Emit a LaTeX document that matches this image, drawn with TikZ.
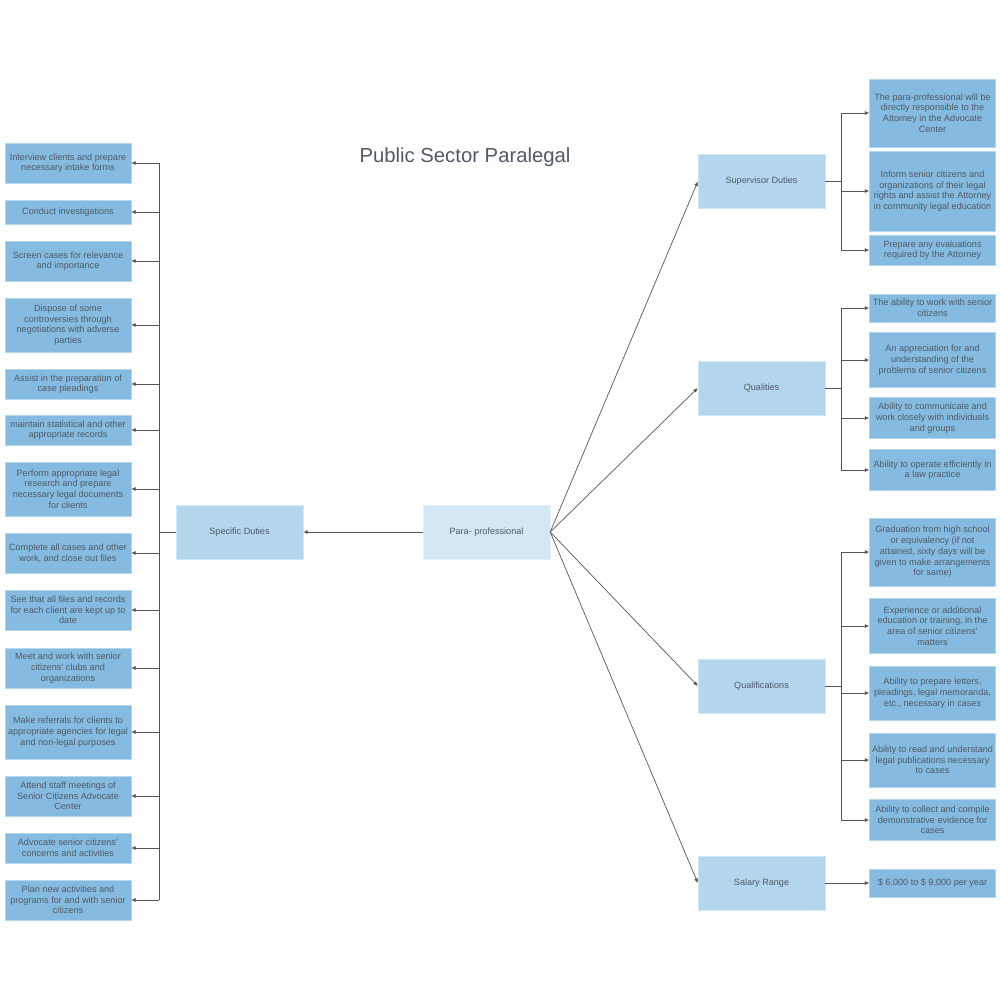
\documentclass[tikz,border=0pt]{standalone}
\usepackage{fontspec}
\setmainfont{Liberation Sans}
\usetikzlibrary{arrows.meta}
\definecolor{leafblue}{HTML}{85BBE1}
\definecolor{midblue}{HTML}{B3D6EC}
\definecolor{rootblue}{HTML}{D3E8F5}
\definecolor{txtgray}{HTML}{505A66}
\definecolor{linegray}{HTML}{555555}

\begin{document}
\begin{tikzpicture}[
    x=1pt, y=-1pt,
    every node/.style={font=\fontsize{9.1}{10.7}\selectfont, text=txtgray},
    leaf/.style={rectangle, fill=leafblue, draw=leafblue!60!white, line width=0.4pt,
        align=center, inner sep=1pt, minimum width=126pt},
    midbox/.style={rectangle, fill=midblue, draw=midblue!60!white, line width=0.4pt,
        align=center, minimum width=127pt, minimum height=54pt},
    rootbox/.style={midbox, fill=rootblue, draw=rootblue!60!white},
    link/.style={draw=linegray, line width=0.7pt},
    arrow/.style={link, -{Latex[length=4.5pt, width=4pt]}}
]
\useasboundingbox (0,0) rectangle (1000,1000);

\node[font=\fontsize{20.3}{24}\selectfont] (title) at (465,157) {Public Sector Paralegal};

\node[rootbox] (para) at (486.5,532) {Para- professional};
\node[midbox] (spec) at (239.5,532) {Specific Duties};
\node[midbox] (sup) at (761.5,181.5) {Supervisor Duties};
\node[midbox] (qual) at (761.5,388) {Qualities};
\node[midbox] (qfn) at (761.5,686) {Qualifications};
\node[midbox] (sal) at (761.5,883) {Salary Range};

\node[leaf, minimum height=40pt] (d1) at (68,163) {Interview clients and prepare\\necessary intake forms};
\node[leaf, minimum height=24pt] (d2) at (68,212) {Conduct investigations};
\node[leaf, minimum height=40pt] (d3) at (68,261) {Screen cases for relevance\\and importance};
\node[leaf, minimum height=54pt] (d4) at (68,325) {Dispose of some\\controversies through\\negotiations with adverse\\parties};
\node[leaf, minimum height=30pt] (d5) at (68,384) {Assist in the preparation of\\case pleadings};
\node[leaf, minimum height=30pt] (d6) at (68,430) {maintain statistical and other\\appropriate records};
\node[leaf, minimum height=54pt] (d7) at (68,489) {Perform appropriate legal\\research and prepare\\necessary legal documents\\for clients};
\node[leaf, minimum height=40pt] (d8) at (68,553) {Complete all cases and other\\work, and close out files};
\node[leaf, minimum height=40pt] (d9) at (68,610) {See that all files and records\\for each client are kept up to\\date};
\node[leaf, minimum height=40pt] (d10) at (68,668) {Meet and work with senior\\citizens' clubs and\\organizations};
\node[leaf, minimum height=54pt] (d11) at (68,732) {Make referrals for clients to\\appropriate agencies for legal\\and non-legal purposes};
\node[leaf, minimum height=40pt] (d12) at (68,796) {Attend staff meetings of\\Senior Citizens Advocate\\Center};
\node[leaf, minimum height=30pt] (d13) at (68,848) {Advocate senior citizens'\\concerns and activities};
\node[leaf, minimum height=40pt] (d14) at (68,900) {Plan new activities and\\programs for and with senior\\citizens};

\node[leaf, minimum height=68pt] (s1) at (932.5,113) {The para-professional will be\\directly responsible to the\\Attorney in the Advocate\\Center};
\node[leaf, minimum height=80pt] (s2) at (932.5,191) {Inform senior citizens and\\organizations of their legal\\rights and assist the Attorney\\in community legal education};
\node[leaf, minimum height=30pt] (s3) at (932.5,250) {Prepare any evaluations\\required by the Attorney};

\node[leaf, minimum height=28pt] (q1) at (932.5,308) {The ability to work with senior\\citizens};
\node[leaf, minimum height=55pt] (q2) at (932.5,360) {An appreciation for and\\understanding of the\\problems of senior citizens};
\node[leaf, minimum height=41pt] (q3) at (932.5,418) {Ability to communicate and\\work closely with individuals\\and groups};
\node[leaf, minimum height=41pt] (q4) at (932.5,470) {Ability to operate efficiently in\\a law practice};

\node[leaf, minimum height=68pt] (f1) at (932.5,552) {Graduation from high school\\or equivalency (if not\\attained, sixty days will be\\given to make arrangements\\for same)};
\node[leaf, minimum height=55pt] (f2) at (932.5,626) {Experience or additional\\education or training, in the\\area of senior citizens'\\matters};
\node[leaf, minimum height=54pt] (f3) at (932.5,693) {Ability to prepare letters,\\pleadings, legal memoranda,\\etc., necessary in cases};
\node[leaf, minimum height=54pt] (f4) at (932.5,760) {Ability to read and understand\\legal publications necessary\\to cases};
\node[leaf, minimum height=41pt] (f5) at (932.5,820) {Ability to collect and compile\\demonstrative evidence for\\cases};

\node[leaf, minimum height=28pt] (pay) at (932.5,883) {\$ 6,000 to \$ 9,000 per year};

\coordinate (lbus) at (159,532);
\coordinate (rbus) at (841,532);

\draw[arrow] (para) -- (spec);
\draw[arrow] (para.east) -- (sup.west);
\draw[arrow] (para.east) -- (qual.west);
\draw[arrow] (para.east) -- (qfn.west);
\draw[arrow] (para.east) -- (sal.west);

\draw[link] (spec.west) -- (lbus);
\draw[link] (lbus |- d1.east) -- (lbus |- d14.east);
\foreach \n in {d1,d2,d3,d4,d5,d6,d7,d8,d9,d10,d11,d12,d13,d14}
    \draw[arrow] (lbus |- \n.east) -- (\n.east);

\draw[link] (sup.east) -- (rbus |- sup.east);
\draw[link] (rbus |- s1.west) -- (rbus |- s3.west);
\foreach \n in {s1,s2,s3}
    \draw[arrow] (rbus |- \n.west) -- (\n.west);

\draw[link] (qual.east) -- (rbus |- qual.east);
\draw[link] (rbus |- q1.west) -- (rbus |- q4.west);
\foreach \n in {q1,q2,q3,q4}
    \draw[arrow] (rbus |- \n.west) -- (\n.west);

\draw[link] (qfn.east) -- (rbus |- qfn.east);
\draw[link] (rbus |- f1.west) -- (rbus |- f5.west);
\foreach \n in {f1,f2,f3,f4,f5}
    \draw[arrow] (rbus |- \n.west) -- (\n.west);

\draw[arrow] (sal) -- (pay);
\end{tikzpicture}
\end{document}
